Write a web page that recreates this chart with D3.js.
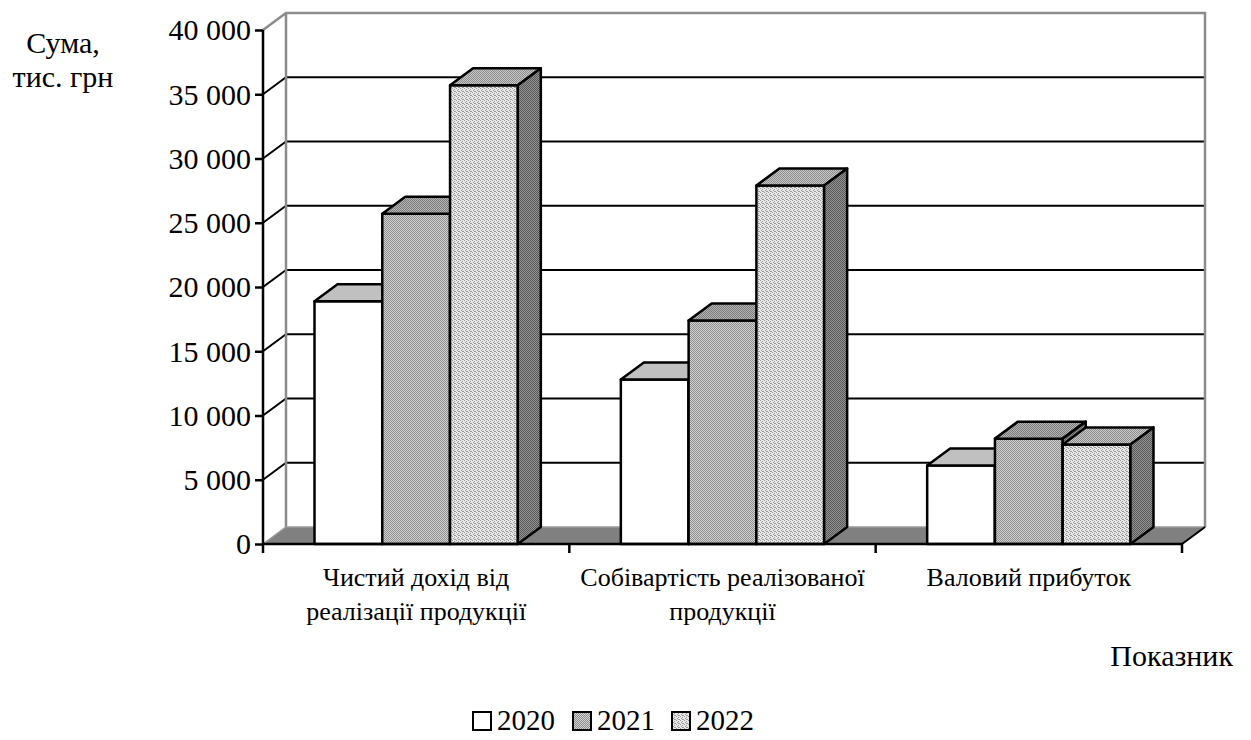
<!DOCTYPE html>
<html>
<head>
<meta charset="utf-8">
<script src="https://cdn.jsdelivr.net/npm/d3@7"></script>
<style>
  html, body { margin: 0; padding: 0; background: #fff; }
  svg { display: block; }
  svg text { font-family: "Liberation Serif", "Times New Roman", "DejaVu Serif", serif; fill: #000; }
</style>
</head>
<body>
<svg id="chart" width="1251" height="740"></svg>
<script>
// Indicators (thousand UAH) for 2020–2022
const categories = [
  ["Чистий дохід від", "реалізації продукції"],
  ["Собівартість реалізованої", "продукції"],
  ["Валовий прибуток"]
];
const years = ["2020", "2021", "2022"];
const values2020 = [18900, 12800, 6100];
const values2021 = [25700, 17400, 8200];
const values2022 = [35700, 27900, 7750];
const yTicks = [0, 5000, 10000, 15000, 20000, 25000, 30000, 35000, 40000];

const series = [values2020, values2021, values2022];
const catKeys = categories.map(c => c.join(" "));

const svg = d3.select("#chart");
const SERIF = "Liberation Serif, Times New Roman, DejaVu Serif, serif";

// Perspective offset of the back plane
const DX = 23, DY = -17;

const x = d3.scaleBand().domain(catKeys).range([263, 1182]).paddingInner(0).paddingOuter(0);
const x1 = d3.scaleBand().domain(years).range([0, x.bandwidth()]).paddingInner(0).paddingOuter(0.76);
const y = d3.scaleLinear().domain([0, 40000]).range([544, 30]);

const locale = d3.formatLocale({ thousands: " ", grouping: [3], decimal: ",", currency: ["", ""] });
const fmt = locale.format(",");

// ---- fill patterns (dithered greys) ----
const defs = svg.append("defs");
function checker(id, a, b) {
  const p = defs.append("pattern").attr("id", id)
    .attr("patternUnits", "userSpaceOnUse").attr("width", 2).attr("height", 2);
  p.append("rect").attr("width", 2).attr("height", 2).attr("fill", b);
  p.append("rect").attr("x", 0).attr("y", 0).attr("width", 1).attr("height", 1).attr("fill", a);
  p.append("rect").attr("x", 1).attr("y", 1).attr("width", 1).attr("height", 1).attr("fill", a);
}
function sparse(id, base, dot) {
  const p = defs.append("pattern").attr("id", id)
    .attr("patternUnits", "userSpaceOnUse").attr("width", 4).attr("height", 4);
  p.append("rect").attr("width", 4).attr("height", 4).attr("fill", base);
  [[0, 0], [2, 1], [1, 2], [3, 3], [2, 3]].forEach(([i, j]) =>
    p.append("rect").attr("x", i).attr("y", j).attr("width", 1).attr("height", 1).attr("fill", dot));
}
checker("front21", "#8e8e8e", "#d2d2d2");
checker("top21", "#7a7a7a", "#b6b6b6");
checker("side21", "#5c5c5c", "#909090");
sparse("front22", "#e8e8e8", "#9a9a9a");
checker("top22", "#8c8c8c", "#c8c8c8");
checker("side22", "#585858", "#949494");

const faces = {
  "2020": { front: "#ffffff", top: "#c0c0c0", side: "#808080" },
  "2021": { front: "url(#front21)", top: "url(#top21)", side: "url(#side21)" },
  "2022": { front: "url(#front22)", top: "url(#top22)", side: "url(#side22)" }
};

const x0 = x.range()[0], xN = x.range()[1];
const y0 = y(0), yTop = y(40000);

// ---- back wall ----
const wall = svg.append("g");
wall.append("rect")
  .attr("x", x0 + DX).attr("y", yTop + DY)
  .attr("width", xN - x0).attr("height", y0 - yTop)
  .attr("fill", "#fff");

// gridlines on the back wall and their perspective links to the axis
const inner = yTicks.filter(t => t > 0 && t < 40000);
wall.selectAll("line.grid")
  .data(inner)
  .join("line")
  .attr("x1", x0 + DX).attr("x2", xN + DX)
  .attr("y1", d => y(d) + DY).attr("y2", d => y(d) + DY)
  .attr("stroke", "#000").attr("stroke-width", 2);
wall.selectAll("line.link")
  .data(inner)
  .join("line")
  .attr("x1", x0).attr("x2", x0 + DX)
  .attr("y1", d => y(d)).attr("y2", d => y(d) + DY)
  .attr("stroke", "#000").attr("stroke-width", 2);

// wall border (grey)
wall.append("path")
  .attr("d", `M${x0},${yTop} L${x0 + DX},${yTop + DY} L${xN + DX},${yTop + DY} L${xN + DX},${y0 + DY} M${x0 + DX},${yTop + DY} L${x0 + DX},${y0 + DY}`)
  .attr("fill", "none").attr("stroke", "#8c8c8c").attr("stroke-width", 2.5);

// ---- floor ----
svg.append("path")
  .attr("d", `M${x0},${y0} L${x0 + DX},${y0 + DY} L${xN + DX},${y0 + DY} L${xN},${y0} Z`)
  .attr("fill", "#808080").attr("stroke", "#9a9a9a").attr("stroke-width", 1.5);
svg.append("line")
  .attr("x1", xN).attr("y1", y0).attr("x2", xN + DX).attr("y2", y0 + DY)
  .attr("stroke", "#000").attr("stroke-width", 2);

// ---- bars ----
const bars = svg.append("g").attr("stroke", "#000").attr("stroke-width", 2.5).attr("stroke-linejoin", "round");
catKeys.forEach((c, ci) => {
  years.forEach((yr, si) => {
    const v = series[si][ci];
    const bx = x(c) + x1(yr), bw = x1.bandwidth();
    const ty = y(v), by = y(0);
    const g = bars.append("g");
    g.append("rect").attr("x", bx).attr("y", ty).attr("width", bw).attr("height", by - ty)
      .attr("fill", faces[yr].front);
    g.append("path")
      .attr("d", `M${bx},${ty} L${bx + DX},${ty + DY} L${bx + bw + DX},${ty + DY} L${bx + bw},${ty} Z`)
      .attr("fill", faces[yr].top);
    g.append("path")
      .attr("d", `M${bx + bw},${ty} L${bx + bw + DX},${ty + DY} L${bx + bw + DX},${by + DY} L${bx + bw},${by} Z`)
      .attr("fill", faces[yr].side);
  });
});

// ---- axes ----
const yAxis = svg.append("g").attr("transform", `translate(${x0},0)`)
  .call(d3.axisLeft(y).tickValues(yTicks).tickSize(8).tickPadding(4).tickFormat(fmt));
yAxis.attr("font-family", SERIF);
yAxis.select(".domain").attr("stroke", "#000").attr("stroke-width", 2.5).attr("d", `M0,${yTop}V${y0}`);
yAxis.selectAll(".tick line").attr("stroke", "#000").attr("stroke-width", 2.5);
yAxis.selectAll(".tick text").attr("font-size", 30).attr("font-family", SERIF)
  .attr("fill", "#000").attr("dy", "0.33em");

const xAxis = svg.append("g").attr("transform", `translate(0,${y0})`);
xAxis.append("line").attr("x1", x0).attr("x2", xN).attr("y1", 0).attr("y2", 0)
  .attr("stroke", "#000").attr("stroke-width", 2.5);
xAxis.selectAll("line.tk")
  .data([...catKeys.map(c => x(c)), xN])
  .join("line")
  .attr("x1", d => d).attr("x2", d => d).attr("y1", 0).attr("y2", 9)
  .attr("stroke", "#000").attr("stroke-width", 2.5);

// category labels
const labels = svg.append("g").attr("font-size", 26).attr("font-family", SERIF).attr("text-anchor", "middle");
categories.forEach((lines, i) => {
  const cx = x(catKeys[i]) + x.bandwidth() / 2;
  const t = labels.append("text").attr("x", cx).attr("y", 586);
  lines.forEach((ln, k) => t.append("tspan").attr("x", cx).attr("dy", k === 0 ? 0 : 34).text(ln));
});

// axis titles
const yTitle = svg.append("text").attr("font-size", 30).attr("font-family", SERIF).attr("text-anchor", "middle");
yTitle.append("tspan").attr("x", 63).attr("y", 53).text("Сума,");
yTitle.append("tspan").attr("x", 63).attr("y", 87).text("тис. грн");
svg.append("text").attr("font-size", 30).attr("font-family", SERIF).attr("x", 1233).attr("y", 666)
  .attr("text-anchor", "end").text("Показник");

// ---- legend ----
const legendX = d3.scaleOrdinal().domain(years).range([473, 573, 672]);
const legend = svg.append("g");
years.forEach(yr => {
  const lg = legend.append("g").attr("transform", `translate(${legendX(yr)},0)`);
  lg.append("rect").attr("x", 0).attr("y", 712).attr("width", 18).attr("height", 18)
    .attr("fill", faces[yr].front).attr("stroke", "#000").attr("stroke-width", 2);
  lg.append("text").attr("x", 24).attr("y", 730).attr("font-size", 29).attr("font-family", SERIF).text(yr);
});
</script>
</body>
</html>
